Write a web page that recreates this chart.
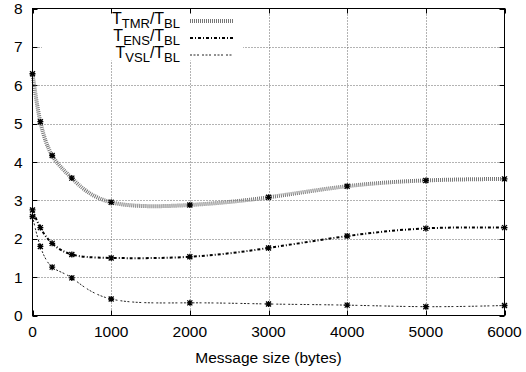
<!DOCTYPE html>
<html>
<head>
<meta charset="utf-8">
<script src="https://cdn.jsdelivr.net/npm/d3@7"></script>
<style>
  body { margin: 0; background: #fff; }
  text { font-family: "Liberation Sans", Arial, sans-serif; fill: #000; }
</style>
</head>
<body>
<div id="chart"></div>
<script>
// message sizes (bytes) where measurements were taken
const sizes = [0, 100, 250, 500, 1000, 2000, 3000, 4000, 5000, 6000];

// ratios
const tmr = [6.3, 5.05, 4.17, 3.58, 2.95, 2.88, 3.08, 3.37, 3.52, 3.56];
const ens = [2.75, 2.29, 1.88, 1.59, 1.50, 1.53, 1.76, 2.07, 2.27, 2.29];
const vsl = [2.58, 1.80, 1.26, 0.98, 0.43, 0.33, 0.30, 0.27, 0.23, 0.26];

const xTicks = [0, 1000, 2000, 3000, 4000, 5000, 6000];
const yTicks = [0, 1, 2, 3, 4, 5, 6, 7, 8];

const seriesNames = ['TMR', 'ENS', 'VSL'];

const width = 526;
const height = 372;
const margin = { top: 8.5, right: 21.5, bottom: 56.5, left: 32.5 };

const svg = d3
  .select('#chart')
  .append('svg')
  .attr('width', width)
  .attr('height', height);

const xScale = d3
  .scaleLinear()
  .domain([0, 6000])
  .range([margin.left, width - margin.right]);

const yScale = d3
  .scaleLinear()
  .domain([0, 8])
  .range([height - margin.bottom, margin.top]);

const plotLeft = margin.left;
const plotRight = width - margin.right;
const plotTop = margin.top;
const plotBottom = height - margin.bottom;

// grid lines (dotted)
const grid = svg.append('g').attr('class', 'grid');
grid.selectAll('line.gx')
  .data(xTicks.slice(1, -1))
  .join('line')
  .attr('class', 'gx')
  .attr('x1', (d) => Math.round(xScale(d)) + 0.5)
  .attr('x2', (d) => Math.round(xScale(d)) + 0.5)
  .attr('y1', plotTop)
  .attr('y2', plotBottom);
grid.selectAll('line.gy')
  .data(yTicks.slice(1, -1))
  .join('line')
  .attr('class', 'gy')
  .attr('x1', plotLeft)
  .attr('x2', plotRight)
  .attr('y1', (d) => Math.round(yScale(d)) + 0.5)
  .attr('y2', (d) => Math.round(yScale(d)) + 0.5);
grid.selectAll('line')
  .attr('stroke', '#666')
  .attr('stroke-width', 1)
  .attr('stroke-dasharray', '1,2');

// key area hides the grid behind it
svg.append('rect')
  .attr('x', 42)
  .attr('y', plotTop + 1)
  .attr('width', 201)
  .attr('height', 51)
  .attr('fill', '#fff');

// ticks on all four sides, pointing in
const tickLen = 5;
const ticks = svg.append('g').attr('stroke', '#000').attr('stroke-width', 1);
xTicks.forEach((t) => {
  const x = Math.round(xScale(t)) + 0.5;
  ticks.append('line').attr('x1', x).attr('x2', x).attr('y1', plotBottom).attr('y2', plotBottom - tickLen);
  ticks.append('line').attr('x1', x).attr('x2', x).attr('y1', plotTop).attr('y2', plotTop + tickLen);
});
yTicks.forEach((t) => {
  const y = Math.round(yScale(t)) + 0.5;
  ticks.append('line').attr('x1', plotLeft).attr('x2', plotLeft + tickLen).attr('y1', y).attr('y2', y);
  ticks.append('line').attr('x1', plotRight).attr('x2', plotRight - tickLen).attr('y1', y).attr('y2', y);
});

// tick labels
svg.append('g')
  .selectAll('text')
  .data(xTicks)
  .join('text')
  .attr('x', (d) => xScale(d))
  .attr('y', plotBottom + 21)
  .attr('text-anchor', 'middle')
  .style('font-size', '15.5px')
  .text((d) => d);

svg.append('g')
  .selectAll('text')
  .data(yTicks)
  .join('text')
  .attr('x', plotLeft - 10)
  .attr('y', (d) => yScale(d) + 5.5)
  .attr('text-anchor', 'end')
  .style('font-size', '15.5px')
  .text((d) => d);

// axis title
svg.append('text')
  .attr('x', (plotLeft + plotRight) / 2)
  .attr('y', plotBottom + 47)
  .attr('text-anchor', 'middle')
  .style('font-size', '15.5px')
  .text('Message size (bytes)');

// line styles per series
const styles = [
  { stroke: '#777', width: 4, dash: '1,1' },
  { stroke: '#000', width: 2, dash: '3,2,1,2' },
  { stroke: '#222', width: 1, dash: '2,1.5,2,1.5,2,3' },
];

const allSeries = [tmr, ens, vsl];

const line = d3
  .line()
  .x((d) => xScale(d[0]))
  .y((d) => yScale(d[1]))
  .curve(d3.curveNatural);

allSeries.forEach((vals, i) => {
  const pts = sizes.map((s, j) => [s, vals[j]]);
  svg.append('path')
    .datum(pts)
    .attr('d', line)
    .attr('fill', 'none')
    .attr('stroke', styles[i].stroke)
    .attr('stroke-width', styles[i].width)
    .attr('stroke-dasharray', styles[i].dash);
});

// asterisk markers at the data points
const star = 'M-3,0H3M0,-3V3M-2.5,-2.5L2.5,2.5M-2.5,2.5L2.5,-2.5';
allSeries.forEach((vals) => {
  svg.append('g')
    .selectAll('path')
    .data(sizes.map((s, j) => [s, vals[j]]))
    .join('path')
    .attr('transform', (d) => `translate(${xScale(d[0])},${yScale(d[1])})`)
    .attr('d', star)
    .attr('stroke', '#000')
    .attr('stroke-width', 1.3)
    .attr('fill', 'none');
});

// frame
svg.append('rect')
  .attr('x', plotLeft)
  .attr('y', plotTop)
  .attr('width', plotRight - plotLeft)
  .attr('height', plotBottom - plotTop)
  .attr('fill', 'none')
  .attr('stroke', '#000')
  .attr('stroke-width', 1);

// key
const key = svg.append('g');
seriesNames.forEach((name, i) => {
  const baseY = 24 + i * 17;
  const t = key.append('text')
    .attr('x', 180)
    .attr('y', baseY)
    .attr('text-anchor', 'end')
    .style('font-size', '16px');
  t.append('tspan').text('T');
  t.append('tspan').attr('dy', 4).style('font-size', '13px').text(name);
  t.append('tspan').attr('dy', -4).text('/T');
  t.append('tspan').attr('dy', 4).style('font-size', '13px').text('BL');

  key.append('line')
    .attr('x1', 190)
    .attr('x2', 233)
    .attr('y1', baseY - 3)
    .attr('y2', baseY - 3)
    .attr('stroke', styles[i].stroke)
    .attr('stroke-width', styles[i].width)
    .attr('stroke-dasharray', styles[i].dash);
});
</script>
</body>
</html>
